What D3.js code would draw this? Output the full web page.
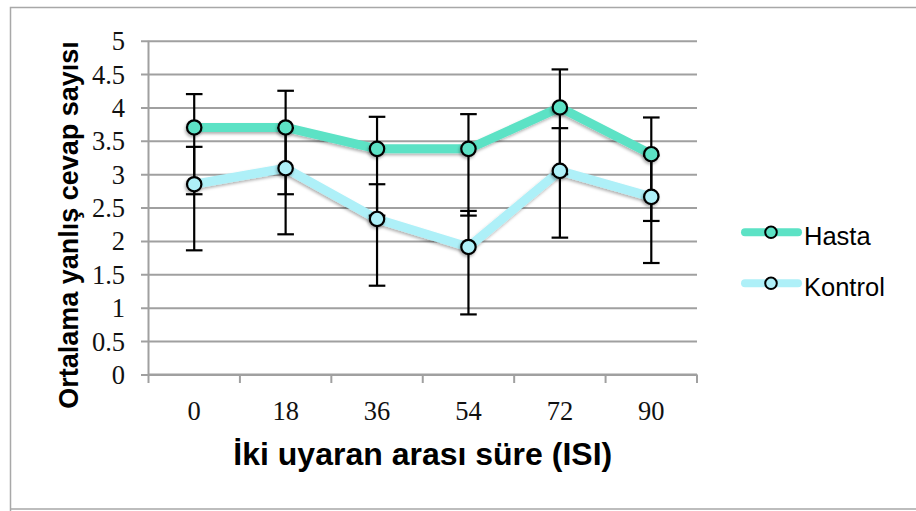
<!DOCTYPE html>
<html>
<head>
<meta charset="utf-8">
<script src="https://cdn.jsdelivr.net/npm/d3@7"></script>
<style>
  html, body { margin: 0; padding: 0; background: #fff; }
  svg { display: block; }
</style>
</head>
<body>
<svg id="chart" width="916" height="511"></svg>
<script>
// ISI categories (ms) and mean error counts with asymmetric error bars
const categories = ["0", "18", "36", "54", "72", "90"];
const hastaMean = [3.7, 3.7, 3.38, 3.38, 4.0, 3.3];
const hastaErrPlus = [0.5, 0.55, 0.48, 0.52, 0.57, 0.55];
const hastaErrMinus = [1.0, 1.0, 1.0, 1.0, 1.0, 1.0];
const kontrolMean = [2.85, 3.09, 2.33, 1.91, 3.05, 2.66];
const kontrolErrPlus = [0.56, 0.6, 0.52, 0.54, 0.64, 0.62];
const kontrolErrMinus = [0.99, 0.99, 1.0, 1.01, 1.0, 0.99];
const yTicks = [0, 0.5, 1, 1.5, 2, 2.5, 3, 3.5, 4, 4.5, 5];
const seriesNames = ["Hasta", "Kontrol"];
const seriesColors = ["#5ce2c5", "#aef0f8"];

const series = [
  { name: seriesNames[0], color: seriesColors[0], mean: hastaMean, plus: hastaErrPlus, minus: hastaErrMinus },
  { name: seriesNames[1], color: seriesColors[1], mean: kontrolMean, plus: kontrolErrPlus, minus: kontrolErrMinus }
];

const svg = d3.select("#chart");
const plot = { left: 148.5, right: 697, top: 40.7, bottom: 374.5 };
const serifFont = "'Liberation Serif', 'Times New Roman', serif";
const sansFont = "'Liberation Sans', Arial, sans-serif";

const x = d3.scaleBand().domain(categories).range([plot.left, plot.right]).padding(0);
const y = d3.scaleLinear().domain([0, 5]).range([plot.bottom, plot.top]);
const cx = c => x(c) + x.bandwidth() / 2;

// soft shadow under lines and markers
const defs = svg.append("defs");
const f = defs.append("filter").attr("id", "shadow")
  .attr("x", "-20%").attr("y", "-20%").attr("width", "140%").attr("height", "140%");
f.append("feDropShadow").attr("dx", -1).attr("dy", 2).attr("stdDeviation", 1.6)
  .attr("flood-color", "#000").attr("flood-opacity", 0.3);

// outer frame
svg.append("path")
  .attr("d", "M10.5,920 L10.5,7.5 L920,7.5 M10.5,509 L920,509")
  .attr("fill", "none").attr("stroke", "#a8a8a8").attr("stroke-width", 1.5);

// horizontal gridlines with left tick stubs
const stub = 7.5;
const yAxis = d3.axisLeft(y).tickValues(yTicks)
  .tickSize(-(plot.right - plot.left + stub))
  .tickFormat(d3.format("~g"));
const gy = svg.append("g").attr("transform", `translate(${plot.left - stub},0)`).call(yAxis);
gy.select(".domain").remove();
gy.selectAll(".tick line").attr("stroke", "#a0a0a0").attr("stroke-width", 2);
gy.selectAll(".tick text")
  .attr("x", 125 - (plot.left - stub))
  .attr("dy", "0.34em")
  .attr("fill", "#111")
  .style("font-family", serifFont)
  .style("font-size", "26.5px");

// vertical axis line
svg.append("line")
  .attr("x1", plot.left).attr("x2", plot.left)
  .attr("y1", plot.top).attr("y2", plot.bottom)
  .attr("stroke", "#a0a0a0").attr("stroke-width", 2);

// category axis: ticks at band boundaries, labels at band centres
const gx = svg.append("g").attr("transform", `translate(0,${plot.bottom})`);
gx.append("line").attr("x1", plot.left).attr("x2", plot.right).attr("y1", 0).attr("y2", 0)
  .attr("stroke", "#a0a0a0").attr("stroke-width", 2);
const bounds = categories.map(c => x(c)).concat([plot.right]);
gx.selectAll("line.tk").data(bounds).join("line").attr("class", "tk")
  .attr("x1", d => d).attr("x2", d => d).attr("y1", 0).attr("y2", 8.5)
  .attr("stroke", "#a0a0a0").attr("stroke-width", 2);
gx.selectAll("text").data(categories).join("text")
  .attr("x", d => cx(d)).attr("y", 45)
  .attr("text-anchor", "middle").attr("fill", "#111")
  .style("font-family", serifFont)
  .style("font-size", "26.5px")
  .text(d => d);

// axis titles
svg.append("text")
  .attr("x", (plot.left + plot.right) / 2).attr("y", 465)
  .attr("text-anchor", "middle").attr("fill", "#000")
  .style("font-family", sansFont)
  .style("font-weight", "bold").style("font-size", "32px")
  .text("İki uyaran arası süre (ISI)");
svg.append("text")
  .attr("transform", "translate(78,225) rotate(-90)")
  .attr("text-anchor", "middle").attr("fill", "#000")
  .style("font-family", sansFont)
  .style("font-weight", "bold").style("font-size", "27px")
  .text("Ortalama yanlış cevap sayısı");

// series lines
const line = d3.line().x((d, i) => cx(categories[i])).y(d => y(d));
const linesG = svg.append("g").attr("filter", "url(#shadow)");
series.slice().reverse().forEach(s => {
  linesG.append("path").datum(s.mean)
    .attr("d", line).attr("fill", "none")
    .attr("stroke", s.color).attr("stroke-width", 9)
    .attr("stroke-linejoin", "round");
});

// error bars
const capW = 8.3;
const errG = svg.append("g").attr("stroke", "#000").attr("stroke-width", 2.2);
series.forEach(s => {
  s.mean.forEach((m, i) => {
    const px = cx(categories[i]);
    const hi = y(m + s.plus[i]), lo = y(m - s.minus[i]);
    errG.append("line").attr("x1", px).attr("x2", px).attr("y1", hi).attr("y2", lo);
    errG.append("line").attr("x1", px - capW).attr("x2", px + capW).attr("y1", hi).attr("y2", hi);
    errG.append("line").attr("x1", px - capW).attr("x2", px + capW).attr("y1", lo).attr("y2", lo);
  });
});

// markers
const markG = svg.append("g").attr("filter", "url(#shadow)");
series.forEach(s => {
  markG.selectAll(null).data(s.mean).join("circle")
    .attr("cx", (d, i) => cx(categories[i])).attr("cy", d => y(d))
    .attr("r", 7.2).attr("fill", s.color)
    .attr("stroke", "#000").attr("stroke-width", 2.2);
});

// legend
const legendY = [232.3, 283.3];
const lg = svg.append("g");
series.forEach((s, i) => {
  const g = lg.append("g").attr("transform", `translate(0,${legendY[i]})`);
  g.append("line").attr("x1", 745).attr("x2", 798).attr("y1", 0).attr("y2", 0)
    .attr("stroke", s.color).attr("stroke-width", 8).attr("stroke-linecap", "round");
  g.append("circle").attr("cx", 771).attr("cy", 0).attr("r", 5.8)
    .attr("fill", s.color).attr("stroke", "#000").attr("stroke-width", 2);
  g.append("text").attr("x", 804).attr("y", 12.7).attr("fill", "#000")
    .style("font-family", sansFont)
    .style("font-size", "25.5px")
    .text(s.name);
});
</script>
</body>
</html>
